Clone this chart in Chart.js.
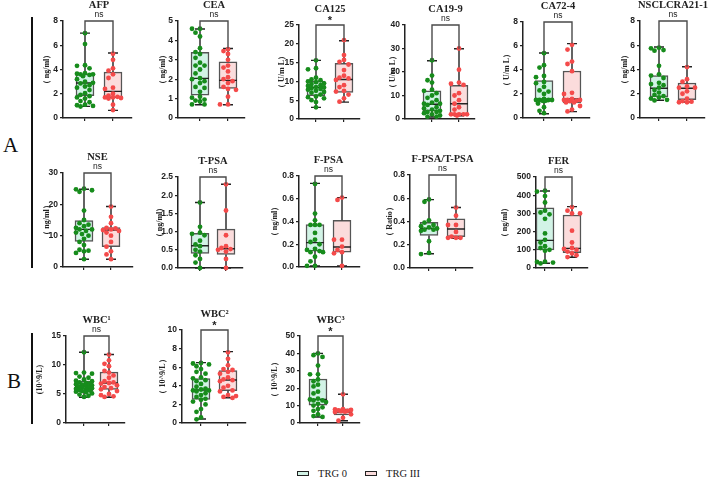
<!DOCTYPE html>
<html>
<head>
<meta charset="utf-8">
<script src="https://cdn.jsdelivr.net/npm/chart.js@4.4.1/dist/chart.umd.min.js"></script>
<style>
  html, body { margin: 0; padding: 0; background: #fff; overflow: hidden; width: 708px; height: 479px; }
  #wrap { position: relative; width: 708px; height: 479px; }
  #wrap canvas { position: absolute; }
  .sec { position: absolute; font-family: "Liberation Serif", "Times New Roman", serif; font-size: 21px; line-height: 1; color: #111; }
  .vbar { position: absolute; width: 2px; background: #111; }
  .leg { position: absolute; height: 14px; display: flex; align-items: center;
         font-family: "Liberation Serif", "Times New Roman", serif; font-size: 10.5px; color: #222; }
  .leg i { display: inline-block; width: 10px; height: 3px; border: 1.6px solid #222; margin-right: 9px; }
</style>
</head>
<body>
<div id="wrap">
  <div class="sec" style="left:3px;top:135px">A</div>
  <div class="vbar" style="left:31px;top:17px;height:251px"></div>
  <div class="sec" style="left:7px;top:371px">B</div>
  <div class="vbar" style="left:31px;top:333px;height:91px"></div>
  <div class="leg" style="left:297px;top:466px"><i style="background:#d2f3e6"></i>TRG 0</div>
  <div class="leg" style="left:365px;top:466px"><i style="background:#fbdcdc"></i>TRG III</div>
</div>
<script>
// ---- data ----
const MARKERS = ['AFP', 'CEA', 'CA125', 'CA19-9', 'CA72-4', 'NSCLCRA21-1',
  'NSE', 'T-PSA', 'F-PSA', 'F-PSA/T-PSA', 'FER', 'WBC¹', 'WBC²', 'WBC³'];
const UNITS = ['（ ng/ml）', '（ ng/ml）', '（ U/m L）', '（ U/m L）', '（ U/m L）', '（ ng/ml）',
  '（ ng/ml）', '（ ng/ml）', '（ ng/ml）', '（ Ratio）', '（ ng/ml）', '(10^9/L)', '（ 10^9/L）', '（ 10^9/L）'];
const SIG = ['ns', 'ns', '*', 'ns', 'ns', 'ns', 'ns', 'ns', 'ns', 'ns', 'ns', 'ns', '*', '*'];
const Y_TICKS = [
  ['0', '2', '4', '6', '8'], ['0', '1', '2', '3', '4', '5'], ['0', '5', '10', '15', '20', '25'],
  ['0', '10', '20', '30', '40'], ['0', '2', '4', '6', '8'], ['0', '2', '4', '6', '8'],
  ['0', '10', '20', '30'], ['0.0', '0.5', '1.0', '1.5', '2.0', '2.5'], ['0.0', '0.2', '0.4', '0.6', '0.8'],
  ['0.0', '0.2', '0.4', '0.6', '0.8'], ['0', '100', '200', '300', '400', '500'],
  ['0', '5', '10', '15'], ['0', '2', '4', '6', '8', '10'], ['0', '10', '20', '30', '40', '50'],
];

// box stats per marker: [min, q1, median, q3, max]
const BOX_TRG0 = [
  [0.96, 1.84, 2.89, 3.63, 7.0], [0.68, 1.18, 2.04, 3.38, 4.59], [3.1, 6.2, 8.4, 10.1, 15.6],
  [0.85, 3.4, 6.3, 12.0, 24.8], [0.36, 1.5, 1.55, 3.11, 5.42], [1.46, 1.73, 2.45, 3.49, 5.86],
  [2.45, 8.2, 12.0, 14.8, 24.8], [0, 0.4, 0.61, 0.95, 1.8], [0.01, 0.14, 0.214, 0.373, 0.735],
  [0.123, 0.28, 0.34, 0.393, 0.588], [26, 99, 152, 331, 423],
  [4.43, 5.46, 6.38, 7.24, 12.2], [0.43, 2.54, 3.55, 4.77, 6.49], [3.45, 10.2, 13.6, 25.3, 40],
];
const BOX_TRG3 = [
  [0.63, 1.67, 2.2, 3.79, 5.36], [0.68, 1.53, 1.94, 2.89, 3.58], [4.5, 7.1, 10.5, 14.8, 20.8],
  [1.4, 2.0, 6.5, 14.3, 29.9], [0.53, 1.25, 1.58, 3.92, 6.2], [1.32, 1.51, 2.45, 2.89, 4.23],
  [2.45, 6.5, 11.8, 12.6, 19.3], [0, 0.37, 0.53, 1.07, 2.3], [0.01, 0.13, 0.176, 0.41, 0.61],
  [0.255, 0.27, 0.335, 0.424, 0.52], [59, 84, 108, 291, 337],
  [4.43, 5.8, 6.9, 8.8, 11.8], [2.72, 3.47, 4.62, 5.63, 7.67], [1.3, 4.6, 6.3, 8.2, 16.5],
];

// individual patients
const PTS_TRG0 = [
  [7.0, 6.1, 4.35, 4.3, 4.1, 3.7, 3.65, 3.6, 3.6, 3.55, 3.45, 3.2, 3.0, 2.9, 2.85, 2.7, 2.6, 2.5, 2.3, 2.05, 1.9, 1.8, 1.7, 1.6, 1.4, 1.3, 1.1, 1.05, 1.0, 0.95],
  [4.6, 4.6, 4.4, 4.2, 3.6, 3.4, 3.3, 3.1, 2.85, 2.7, 2.7, 2.5, 2.3, 2.05, 2.0, 1.9, 1.8, 1.6, 1.55, 1.35, 1.1, 1.05, 0.95, 0.9, 0.85, 0.7, 0.7],
  [15.6, 13.5, 13.2, 11.0, 10.5, 10.3, 10.0, 9.8, 9.5, 9.3, 9.0, 8.8, 8.5, 8.4, 8.2, 8.0, 7.8, 7.5, 7.2, 7.0, 6.5, 6.0, 5.8, 5.5, 5.0, 4.5, 3.1],
  [25, 18.5, 16.5, 15.5, 12.5, 12, 11, 10, 9, 8, 7, 6.5, 6.5, 6, 5, 4.5, 4, 3.5, 3, 3, 2.5, 2, 1.5, 1, 1],
  [5.4, 4.4, 4.2, 3.5, 3.4, 3.0, 2.9, 2.6, 2.3, 2.2, 2.0, 1.6, 1.5, 1.5, 1.5, 1.5, 1.45, 1.45, 1.4, 1.2, 0.9, 0.6, 0.4],
  [5.8, 5.75, 5.6, 5.55, 4.3, 3.6, 3.5, 3.3, 2.9, 2.8, 2.7, 2.5, 2.3, 2.1, 1.9, 1.8, 1.7, 1.6, 1.5, 1.45],
  [25, 24.8, 24.5, 24.0, 18, 15, 14, 13.5, 13, 12.5, 12, 12, 11.5, 11, 10.5, 10, 9, 8, 7, 5.5, 5.2, 5, 4.5, 2.5],
  [1.8, 1.13, 0.97, 0.94, 0.9, 0.75, 0.65, 0.6, 0.5, 0.45, 0.35, 0.25, 0.15, 0.0],
  [0.73, 0.47, 0.41, 0.37, 0.37, 0.37, 0.3, 0.24, 0.22, 0.2, 0.16, 0.15, 0.14, 0.13, 0.13, 0.09, 0.05, 0.01, 0.01],
  [0.59, 0.57, 0.41, 0.39, 0.37, 0.36, 0.35, 0.34, 0.33, 0.33, 0.32, 0.23, 0.13, 0.12],
  [425, 420, 395, 360, 315, 305, 295, 270, 190, 155, 140, 120, 110, 100, 95, 35, 33, 30, 25],
  [12.2, 8.7, 8.6, 8.5, 8.0, 7.8, 7.5, 7.3, 7.2, 7.0, 6.9, 6.8, 6.7, 6.6, 6.5, 6.4, 6.3, 6.2, 6.1, 6.0, 5.9, 5.8, 5.7, 5.6, 5.5, 5.4, 5.3, 5.1, 4.9, 4.7, 4.5],
  [6.45, 6.4, 6.3, 6.1, 5.8, 5.5, 5.3, 4.9, 4.8, 4.6, 4.5, 4.2, 3.9, 3.7, 3.6, 3.5, 3.5, 3.4, 3.2, 3.0, 2.8, 2.6, 2.5, 2.3, 2.0, 1.5, 1.2, 0.6, 0.4],
  [40, 39, 38, 33, 28, 28, 25, 24, 22, 21, 18, 17, 14, 13.5, 13, 13, 12, 11, 10, 9, 8, 7, 5, 4, 3.5],
];
const PTS_TRG3 = [
  [5.3, 4.8, 4.1, 3.9, 3.6, 3.3, 2.5, 2.4, 2.0, 1.85, 1.75, 1.7, 1.7, 1.65, 1.6, 1.1, 0.65],
  [3.55, 3.45, 3.3, 3.0, 2.7, 2.6, 2.4, 2.1, 2.0, 1.9, 1.8, 1.6, 1.5, 1.45, 1.1, 0.7, 0.7],
  [21, 17, 15.7, 15.2, 14.5, 13, 11.5, 11, 10.8, 10.4, 9.0, 8.5, 7.5, 7.3, 6.5, 5.5, 4.6],
  [30, 21, 15.5, 15, 14.5, 11, 10, 8, 6.5, 5, 4, 2, 2, 2, 2, 2, 1.5],
  [6.1, 5.7, 4.7, 4.5, 3.9, 2.1, 2.0, 1.6, 1.5, 1.5, 1.5, 1.45, 1.4, 1.3, 1.3, 1.0, 0.7, 0.55],
  [4.2, 3.2, 3.0, 2.6, 2.5, 2.5, 2.2, 2.0, 1.6, 1.4, 1.35, 1.3, 1.3],
  [19.3, 16, 14, 12.5, 12.3, 12, 11.8, 11.5, 11, 10, 8, 6.5, 5, 4, 2.5],
  [2.3, 1.58, 0.9, 0.6, 0.55, 0.52, 0.5, 0.45, 0.25, 0.0],
  [0.61, 0.59, 0.24, 0.24, 0.18, 0.15, 0.13, 0.12, 0.01],
  [0.52, 0.45, 0.37, 0.37, 0.31, 0.27, 0.26, 0.26, 0.26],
  [335, 315, 300, 300, 205, 140, 110, 105, 100, 90, 80, 70, 60],
  [11.8, 10.8, 10.2, 9.8, 9.0, 8.7, 8.2, 7.8, 7.2, 7.0, 6.9, 6.8, 6.5, 6.2, 6.0, 5.8, 5.5, 5.0, 4.8, 4.6, 4.5],
  [7.6, 6.9, 6.2, 5.8, 5.7, 5.5, 5.3, 4.9, 4.7, 4.6, 4.5, 4.0, 3.8, 3.5, 3.4, 3.0, 2.9, 2.8, 2.7],
  [16.5, 8.0, 7.8, 7.5, 7.3, 7.0, 6.8, 6.5, 6.3, 5.0, 3.0, 1.3],
];

// ---- panel geometry (page px): y-axis x, top/zero y, x-axis end, group centres, unit label x ----
const PANELS = [
  { ax: 63, yt: 21, yb: 118, xe: 132, g1: 85, g2: 113, lab: 47 },
  { ax: 178, yt: 21, yb: 118, xe: 245, g1: 200, g2: 228, lab: 163 },
  { ax: 299, yt: 25, yb: 119, xe: 360, g1: 316, g2: 344, lab: 282 },
  { ax: 405, yt: 25, yb: 119, xe: 475, g1: 432, g2: 459, lab: 393 },
  { ax: 523, yt: 22, yb: 118, xe: 590, g1: 544, g2: 572, lab: 507 },
  { ax: 640, yt: 21, yb: 118, xe: 705, g1: 659, g2: 687, lab: 625 },
  { ax: 63, yt: 173, yb: 267, xe: 133, g1: 84, g2: 111, lab: 47 },
  { ax: 178, yt: 177, yb: 268, xe: 243, g1: 200, g2: 226, lab: 160 },
  { ax: 299, yt: 176, yb: 267, xe: 360, g1: 315, g2: 342, lab: 275 },
  { ax: 410, yt: 175, yb: 268, xe: 473, g1: 429, g2: 456, lab: 390 },
  { ax: 536, yt: 177, yb: 268, xe: 588, g1: 545, g2: 572, lab: 505 },
  { ax: 66, yt: 336, yb: 423, xe: 125, g1: 84, g2: 109, lab: 40 },
  { ax: 182, yt: 330, yb: 423, xe: 246, g1: 201, g2: 228, lab: 163 },
  { ax: 300, yt: 336, yb: 423, xe: 360, g1: 318, g2: 343, lab: 275 },
];

const GREEN = '#178c1c', RED = '#f44a4a';
const GREEN_FILL = '#d2f3e6', RED_FILL = '#fbdcdc';
const INK = '#222', BOX_LINE = '#555';
const SANS = '"Liberation Sans", Arial, sans-serif';
const SERIF = '"Liberation Serif", "Times New Roman", serif';

const LW = 46, TOP = 28, BOT = 8, RIGHT = 8;
const wrap = document.getElementById('wrap');

// whiskers, medians, bracket, title and unit label, all placed through the chart's scales
function boxPlugin(i, p) {
  const boxes = [BOX_TRG0[i], BOX_TRG3[i]];
  return {
    id: 'box' + i,
    afterDatasetDraw(chart, args) {
      if (args.index !== 0) return;
      const { ctx, scales: { x, y } } = chart;
      ctx.save();
      ctx.strokeStyle = INK;
      ctx.lineWidth = 1.4;
      boxes.forEach((b, k) => {
        const cx = x.getPixelForValue(k + 1);
        const [mn, q1, md, q3, mx] = b.map(v => y.getPixelForValue(v));
        ctx.beginPath();
        ctx.moveTo(cx, q3); ctx.lineTo(cx, mx);
        ctx.moveTo(cx, q1); ctx.lineTo(cx, mn);
        ctx.moveTo(cx - 5, mx); ctx.lineTo(cx + 5, mx);
        ctx.moveTo(cx - 5, mn); ctx.lineTo(cx + 5, mn);
        ctx.moveTo(cx - 9, md); ctx.lineTo(cx + 9, md);
        ctx.stroke();
      });
      ctx.restore();
    },
    afterDraw(chart) {
      const { ctx, chartArea: a, scales: { x, y } } = chart;
      const x1 = x.getPixelForValue(1), x2 = x.getPixelForValue(2);
      const top = y.getPixelForValue(y.max);
      ctx.save();
      // significance bracket from each whisker cap up to the axis top
      ctx.strokeStyle = '#4a4a4a';
      ctx.lineWidth = 1.4;
      ctx.beginPath();
      ctx.moveTo(x1, y.getPixelForValue(boxes[0][4]));
      ctx.lineTo(x1, top); ctx.lineTo(x2, top);
      ctx.lineTo(x2, y.getPixelForValue(boxes[1][4]));
      ctx.stroke();

      const mid = (x1 + x2) / 2;
      ctx.fillStyle = INK;
      ctx.textAlign = 'center';
      ctx.textBaseline = 'middle';
      ctx.font = 'bold 10.5px ' + SERIF;
      ctx.fillText(MARKERS[i], mid, a.top - 16);
      if (SIG[i] === '*') {
        ctx.font = 'bold 11px ' + SANS;
        ctx.fillText('*', mid, a.top - 4);
      } else {
        ctx.font = '8.5px ' + SANS;
        ctx.fillText(SIG[i], mid, a.top - 6);
      }
      // rotated unit label
      ctx.translate(a.left - (p.ax - p.lab), (a.top + a.bottom) / 2);
      ctx.rotate(-Math.PI / 2);
      ctx.font = 'bold 8px ' + SERIF;
      ctx.fillText(UNITS[i], 0, 0);
      ctx.restore();
    },
  };
}

// spread the dots sideways so they do not sit on top of each other
function swarm(chart, dsIndex, center) {
  const { x, y } = chart.scales;
  const unitPx = x.getPixelForValue(2) - x.getPixelForValue(1);
  const data = chart.data.datasets[dsIndex].data;
  const placed = [];
  const offs = [0, -4.5, 4.5, -8, 8, -2, 2, -6, 6];
  data.map((d, j) => j).sort((a, b) => data[b].y - data[a].y).forEach(j => {
    const py = y.getPixelForValue(data[j].y);
    let best = 0, bestD = -1;
    for (const off of offs) {
      let minD = Infinity;
      placed.forEach(q => { minD = Math.min(minD, Math.hypot(q.x - off, q.y - py)); });
      if (minD >= 4.8) { best = off; break; }
      if (minD > bestD) { bestD = minD; best = off; }
    }
    placed.push({ x: best, y: py });
    data[j].x = center + best / unitPx;
  });
}

PANELS.forEach((p, i) => {
  const c = document.createElement('canvas');
  c.width = p.xe - p.ax + LW + RIGHT;
  c.height = p.yb - p.yt + TOP + BOT;
  c.style.left = (p.ax - LW) + 'px';
  c.style.top = (p.yt - TOP) + 'px';
  wrap.appendChild(c);

  const unit = p.g2 - p.g1;
  const ticks = Y_TICKS[i];
  const axisLine = { display: true, color: INK, width: 1.5 };
  const tickMarks = { drawOnChartArea: false, drawTicks: true, tickLength: 3, color: INK, lineWidth: 1.2, offset: false };

  const chart = new Chart(c, {
    type: 'bar',
    data: {
      datasets: [
        {
          type: 'bar', order: 3,
          data: [BOX_TRG0[i], BOX_TRG3[i]].map((b, k) => ({ x: k + 1, y: [b[1], b[3]] })),
          backgroundColor: [GREEN_FILL, RED_FILL], borderColor: BOX_LINE, borderWidth: 1.5,
          borderSkipped: false, barThickness: 18,
        },
        {
          type: 'scatter', order: 1, clip: false,
          data: PTS_TRG0[i].map(v => ({ x: 1, y: v })),
          backgroundColor: GREEN, borderWidth: 0, pointRadius: 2.4,
        },
        {
          type: 'scatter', order: 1, clip: false,
          data: PTS_TRG3[i].map(v => ({ x: 2, y: v })),
          backgroundColor: RED, borderWidth: 0, pointRadius: 2.4,
        },
      ],
    },
    options: {
      responsive: false,
      animation: false,
      layout: { padding: { top: TOP, right: RIGHT, left: 0, bottom: 0 } },
      plugins: { legend: { display: false }, tooltip: { enabled: false } },
      scales: {
        x: {
          type: 'linear', offset: false,
          min: 1 - (p.g1 - p.ax) / unit, max: 2 + (p.xe - p.g2) / unit,
          afterBuildTicks: s => { s.ticks = [{ value: 1 }, { value: 2 }]; },
          afterFit: s => { s.height = BOT; },
          ticks: { display: false },
          grid: tickMarks, border: axisLine,
        },
        y: {
          type: 'linear', min: 0, max: parseFloat(ticks[ticks.length - 1]),
          afterBuildTicks: s => { s.ticks = ticks.map(t => ({ value: parseFloat(t) })); },
          afterFit: s => { s.width = LW; },
          ticks: {
            autoSkip: false, padding: 2, color: INK,
            font: { family: SANS, size: 8.5, weight: 'bold' },
            callback: (v, k) => ticks[k],
          },
          grid: tickMarks, border: axisLine,
        },
      },
    },
    plugins: [boxPlugin(i, p)],
  });

  swarm(chart, 1, 1);
  swarm(chart, 2, 2);
  chart.update('none');
});
</script>
</body>
</html>
